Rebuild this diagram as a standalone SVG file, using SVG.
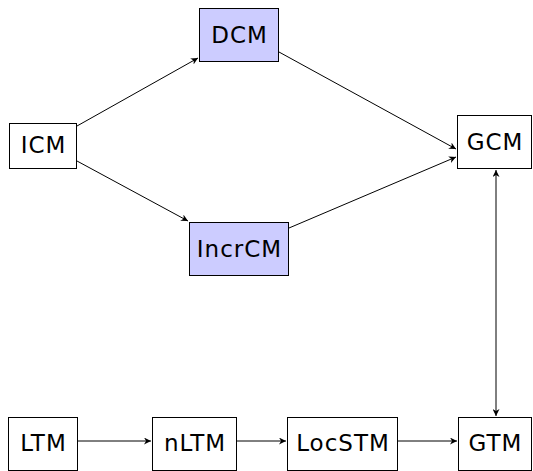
<svg xmlns="http://www.w3.org/2000/svg" width="533" height="471" viewBox="0 0 533 471">
<style>
.box{fill:#fff;stroke:#000;stroke-width:1}
.hl{fill:#ccccff}
.t{font-family:"DejaVu Sans",sans-serif;font-size:23px;letter-spacing:1px;fill:#000;text-anchor:middle;dominant-baseline:central}
.c{fill:none;stroke:#000;stroke-width:1}
</style>
<defs>
<marker id="ah" viewBox="0 0 10 10" refX="10" refY="5" markerWidth="7" markerHeight="7" orient="auto-start-reverse" markerUnits="userSpaceOnUse">
<path d="M0,0 L10,5 L0,10 L3,5 Z" fill="#000"/>
</marker>
</defs>
<g id="connectors">
<line class="c" x1="77" y1="126" x2="198" y2="58" marker-end="url(#ah)"/>
<line class="c" x1="77" y1="161" x2="188" y2="221" marker-end="url(#ah)"/>
<line class="c" x1="279" y1="52" x2="456" y2="149" marker-end="url(#ah)"/>
<line class="c" x1="289" y1="228" x2="456" y2="157" marker-end="url(#ah)"/>
<line class="c" x1="496" y1="170" x2="496" y2="416" marker-start="url(#ah)" marker-end="url(#ah)"/>
<line class="c" x1="78" y1="441" x2="151" y2="441" marker-end="url(#ah)"/>
<line class="c" x1="237" y1="441" x2="286" y2="441" marker-end="url(#ah)"/>
<line class="c" x1="398" y1="441" x2="457" y2="441" marker-end="url(#ah)"/>
</g>
<g id="DCM"><rect class="box hl" x="199.5" y="8.5" width="79" height="53"/><text class="t" x="239.5" y="35">DCM</text></g>
<g id="ICM"><rect class="box" x="9.5" y="123.5" width="67" height="45"/><text class="t" x="43.5" y="145">ICM</text></g>
<g id="IncrCM"><rect class="box hl" x="189.5" y="222.5" width="99" height="53"/><text class="t" x="239.5" y="249">IncrCM</text></g>
<g id="GCM"><rect class="box" x="457.5" y="115.5" width="74" height="53"/><text class="t" x="495" y="142">GCM</text></g>
<g id="LTM"><rect class="box" x="8.5" y="417.5" width="69" height="53"/><text class="t" x="43.5" y="443">LTM</text></g>
<g id="nLTM"><rect class="box" x="152.5" y="417.5" width="84" height="53"/><text class="t" x="195" y="443">nLTM</text></g>
<g id="LocSTM"><rect class="box" x="287.5" y="417.5" width="110" height="53"/><text class="t" x="343" y="443">LocSTM</text></g>
<g id="GTM"><rect class="box" x="458.5" y="417.5" width="73" height="53"/><text class="t" x="495.5" y="443">GTM</text></g>
</svg>
